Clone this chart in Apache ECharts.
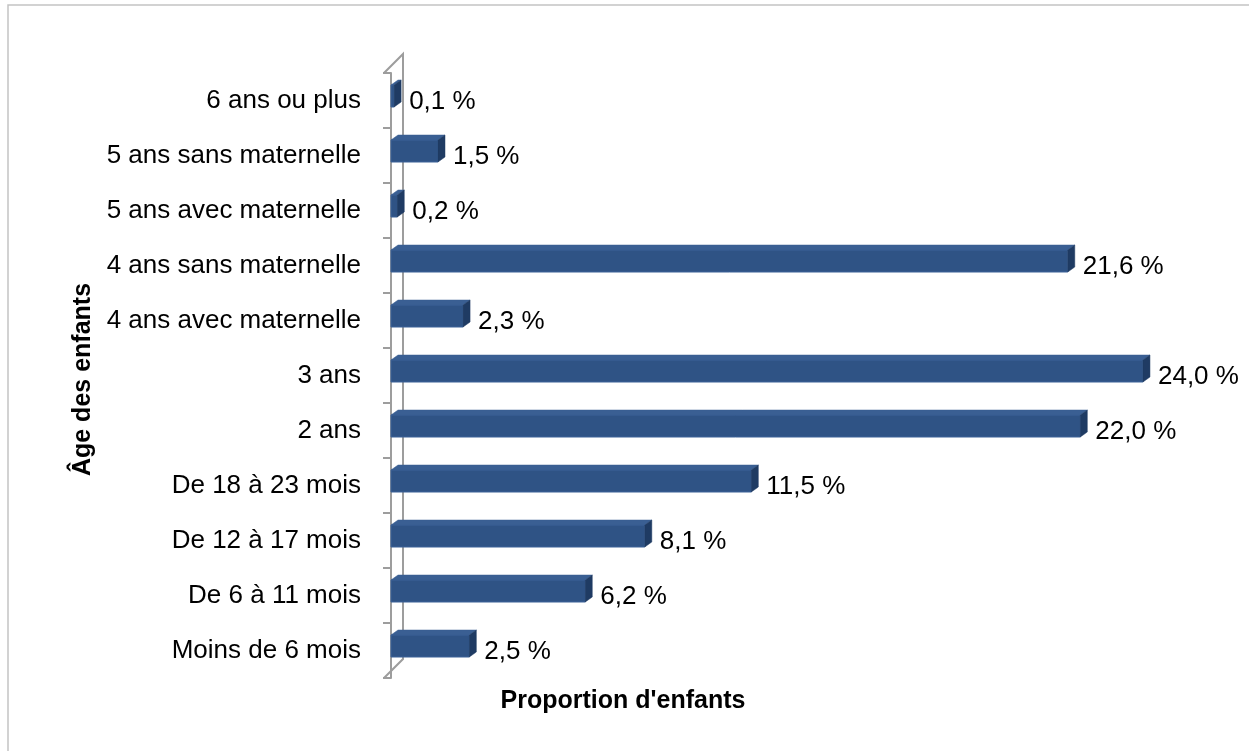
<!DOCTYPE html>
<html>
<head>
<meta charset="utf-8">
<style>
  html, body { margin: 0; padding: 0; background: #ffffff; }
  #chart { width: 1249px; height: 751px; }
</style>
<script src="https://cdn.jsdelivr.net/npm/echarts@6/dist/echarts.min.js"></script>
</head>
<body>
<div id="chart"></div>
<script>
// Age groups, bottom to top
const categories = [
  'Moins de 6 mois',
  'De 6 à 11 mois',
  'De 12 à 17 mois',
  'De 18 à 23 mois',
  '2 ans',
  '3 ans',
  '4 ans avec maternelle',
  '4 ans sans maternelle',
  '5 ans avec maternelle',
  '5 ans sans maternelle',
  '6 ans ou plus'
];
// Share of children in each group (%)
const shares = [2.5, 6.2, 8.1, 11.5, 22.0, 24.0, 2.3, 21.6, 0.2, 1.5, 0.1];

const valueAxisTitle = "Proportion d'enfants";
const categoryAxisTitle = 'Âge des enfants';

const FONT = '"Liberation Sans", Arial, sans-serif';
const DEPTH_X = 7, DEPTH_Y = 5;      // bar extrusion
const WALL = 19;                     // wall extrusion
const AXIS_SHIFT = 7;                // front axis line sits left of value 0
const WALL_COLOR = '#9d9d9d';

function fmt(v) {
  return v.toFixed(1).replace('.', ',') + ' %';
}

const chart = echarts.init(document.getElementById('chart'));

function renderBar(params, api) {
  const idx = api.value(0);
  const val = api.value(1);
  const start = api.coord([0, idx]);
  const end = api.coord([val, idx]);
  const band = api.size([0, 1])[1];
  const h = band * 0.4;
  const cy = start[1] - 4.5;
  const top = cy - h / 2, bottom = cy + h / 2;
  const x0 = start[0], x1 = end[0];
  return {
    type: 'group',
    children: [
      { type: 'rect', shape: { x: x0, y: top, width: x1 - x0, height: h },
        style: { fill: '#2f5385', stroke: '#3c6398', lineWidth: 1 } },
      { type: 'polygon', shape: { points: [[x0, top], [x0 + DEPTH_X, top - DEPTH_Y], [x1 + DEPTH_X, top - DEPTH_Y], [x1, top]] },
        style: { fill: '#3a5f93', stroke: '#3a5f93', lineWidth: 0.5 } },
      { type: 'polygon', shape: { points: [[x1, top], [x1 + DEPTH_X, top - DEPTH_Y], [x1 + DEPTH_X, bottom - DEPTH_Y], [x1, bottom]] },
        style: { fill: '#1f3b63', stroke: '#1f3b63', lineWidth: 0.5 } },
      { type: 'text', x: x1 + 15, y: start[1] + 1,
        style: { text: fmt(val), font: '26px ' + FONT, fill: '#000000', align: 'left', verticalAlign: 'middle' } }
    ]
  };
}

function renderWall(params, api) {
  const n = categories.length;
  const band = api.size([0, 1])[1];
  const x = api.coord([0, 0])[0] - AXIS_SHIFT;
  const yBottom = api.coord([0, 0])[1] + band / 2;
  const yTop = api.coord([0, n - 1])[1] - band / 2;
  const s = { stroke: WALL_COLOR, lineWidth: 2, fill: null };
  return {
    type: 'group',
    children: [
      { type: 'polyline', shape: { points: [[x, yTop], [x + WALL, yTop - WALL], [x + WALL, yBottom - WALL], [x, yBottom]] }, style: s }
    ]
  };
}

chart.setOption({
  backgroundColor: '#ffffff',
  animation: false,
  graphic: [{
    type: 'rect', z: -10, silent: true,
    shape: { x: 8, y: 5, width: 1400, height: 900 },
    style: { fill: '#ffffff', stroke: '#c3c3c3', lineWidth: 1.5 }
  }],
  grid: { left: 391, right: 74.7, top: 73, bottom: 73 },
  xAxis: {
    type: 'value', min: 0, max: 25,
    show: false,
    name: valueAxisTitle
  },
  yAxis: {
    type: 'category',
    data: categories,
    offset: AXIS_SHIFT,
    axisLine: { show: true, lineStyle: { color: WALL_COLOR, width: 2 } },
    axisTick: { show: true, length: 8, lineStyle: { color: WALL_COLOR, width: 2 } },
    axisLabel: { margin: 23, fontSize: 26, fontFamily: FONT, color: '#000000' },
    splitLine: { show: false },
    name: categoryAxisTitle,
    nameLocation: 'middle',
    nameRotate: 90,
    nameGap: 271,
    nameTextStyle: { fontSize: 25, fontWeight: 'bold', fontFamily: FONT, color: '#000000', padding: [0, 8, 0, 0] }
  },
  series: [
    {
      type: 'custom', z: 1,
      renderItem: renderWall,
      data: [[0, 0]],
      silent: true
    },
    {
      type: 'custom', z: 5,
      renderItem: renderBar,
      encode: { x: 1, y: 0 },
      data: shares.map((v, i) => [i, v])
    }
  ],
  title: {
    text: valueAxisTitle,
    left: 618, top: 684,
    textAlign: 'center',
    textStyle: { fontSize: 25, fontWeight: 'bold', fontFamily: FONT, color: '#000000' }
  }
});
</script>
</body>
</html>
